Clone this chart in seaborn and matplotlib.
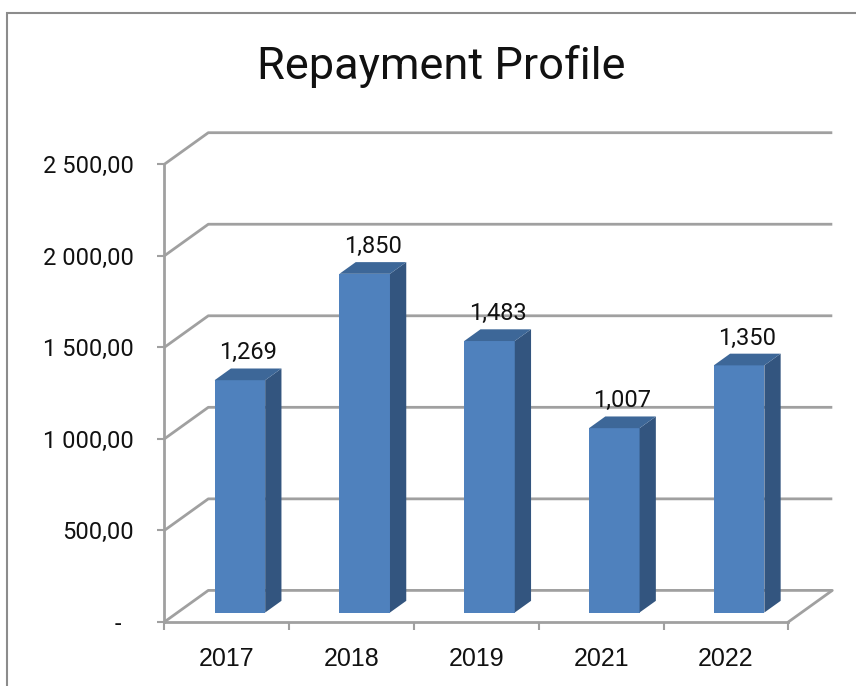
import numpy as np
import pandas as pd
import matplotlib
matplotlib.use("Agg")
import matplotlib.pyplot as plt
from matplotlib.patches import Polygon, Rectangle
import seaborn as sns

# ---- data ----
years = ["2017", "2018", "2019", "2021", "2022"]
values = [1269, 1850, 1483, 1007, 1350]
y_ticks = [0, 500, 1000, 1500, 2000, 2500]
title = "Repayment Profile"

sns.set_theme(style="white")
plt.rcParams["font.family"] = ["Roboto", "DejaVu Sans"]
NARROW = ["Liberation Sans Narrow", "Liberation Sans", "DejaVu Sans"]

W, H = 856, 686
fig = plt.figure(figsize=(W / 100, H / 100), dpi=100)
fig.patch.set_facecolor("white")

# front plane of the plot (pixels)
x0p, x1p, y0p, y1p = 164.3, 788.3, 622.0, 164.3
ax = fig.add_axes([x0p / W, 1 - y0p / H, (x1p - x0p) / W, (y0p - y1p) / H])
ax.set_facecolor("none")

ncat = len(years)
YMAX = 2500
px_per_cat = (x1p - x0p) / ncat
px_per_val = (y0p - y1p) / YMAX
DX = 44.0 / px_per_cat      # full depth in category units
DY = 31.6 / px_per_val      # full depth in value units
D_FRONT, D_BAR = 0.30, 0.37
S = D_FRONT * DX            # x shift of bar front faces
B = D_FRONT * DY            # y shift of bar front faces

GRID = "#A0A0A0"
FRONT = "#4F81BD"
SIDE = "#33557F"
TOP = "#3D6798"

df = pd.DataFrame({"year": years, "value": values})
sns.barplot(data=df, x="year", y="value", color=FRONT, saturation=1,
            width=0.405, bottom=B, ax=ax, zorder=3, linewidth=0)

ax.set_xlim(-0.5 - S, ncat - 0.5 - S)
ax.set_ylim(0, YMAX)

# 3D walls / gridlines
xl = -0.5 - S
xr = ncat - 0.5 - S
for v in y_ticks:
    ax.plot([xl, xl + DX, xr + DX], [v, v + DY, v + DY], color=GRID, lw=2,
            clip_on=False, zorder=1, solid_capstyle="butt")
ax.plot([xr, xr + DX], [0, DY], color=GRID, lw=2, clip_on=False, zorder=1)

# 3D faces of the bars
ddx, ddy = D_BAR * DX, D_BAR * DY
for p, v in zip(ax.patches, values):
    x, w = p.get_x(), p.get_width()
    yb, ht = p.get_y(), p.get_height()
    yt = yb + ht
    side = Polygon([(x + w, yb), (x + w + ddx, yb + ddy), (x + w + ddx, yt + ddy), (x + w, yt)],
                   closed=True, fc=SIDE, ec="none", zorder=3, clip_on=False)
    top = Polygon([(x, yt), (x + ddx, yt + ddy), (x + w + ddx, yt + ddy), (x + w, yt)],
                  closed=True, fc=TOP, ec="none", zorder=3, clip_on=False)
    ax.add_patch(side)
    ax.add_patch(top)
    ax.annotate(f"{v:,.0f}", (x + w / 2 + ddx / 2, yt + ddy), xytext=(0, 3),
                textcoords="offset points", ha="center", va="bottom",
                fontsize=17, color="#111111", annotation_clip=False)

# spines
for s in ["top", "right"]:
    ax.spines[s].set_visible(False)
for s in ["left", "bottom"]:
    ax.spines[s].set_visible(True)
    ax.spines[s].set_color(GRID)
    ax.spines[s].set_linewidth(2)

def fmt(v):
    if v == 0:
        return "-  "
    s = f"{v:,.2f}".replace(",", " ").replace(".", ",")
    return s

ax.set_yticks(y_ticks, labels=[fmt(v) for v in y_ticks])
ax.tick_params(axis="y", which="major", left=True, length=5, width=1.5,
               color=GRID, pad=17, labelsize=17, labelcolor="#111111")

cat_pos = np.arange(ncat) - S
ax.set_xticks(cat_pos, labels=years)
ax.set_xticks(np.arange(ncat + 1) - 0.5 - S, minor=True)
ax.tick_params(axis="x", which="major", length=0, pad=18, labelsize=18,
               labelcolor="#111111")
ax.tick_params(axis="x", which="minor", bottom=True, length=6, width=1.5, color=GRID)
for lab in ax.get_xticklabels():
    lab.set_family(NARROW)
ax.set_xlabel("")
ax.set_ylabel("")

fig.text(441 / W, 1 - 66 / H, title, ha="center", va="center", fontsize=32.5,
         family=["Roboto", "DejaVu Sans"], color="#111111")

fig.add_artist(Rectangle((7 / W, -0.5), 5, 1.5 - 13 / H, transform=fig.transFigure,
                         fill=False, ec="#8C8C8C", lw=1.5))

fig.savefig("out.png", dpi=100, facecolor="white")
